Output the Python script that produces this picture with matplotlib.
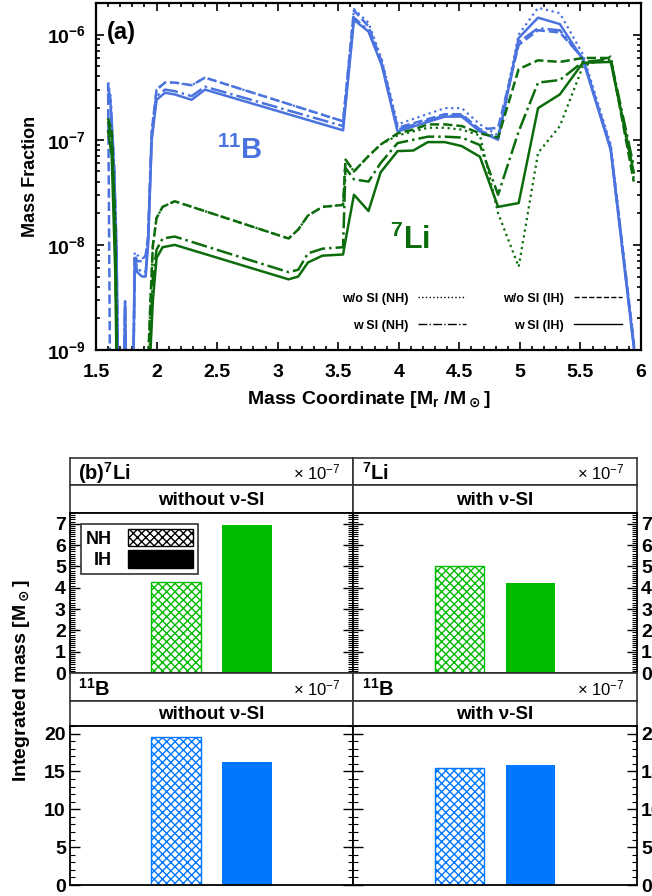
import numpy as np
import matplotlib
matplotlib.use("Agg")
import matplotlib.pyplot as plt
from matplotlib.ticker import MultipleLocator, LogLocator, NullFormatter
from matplotlib.lines import Line2D
from matplotlib.patches import Patch

plt.rcParams['font.family'] = ['Liberation Sans', 'DejaVu Sans']
plt.rcParams['font.weight'] = 'bold'
plt.rcParams['axes.labelweight'] = 'bold'
plt.rcParams['hatch.linewidth'] = 1.0

# ---------------- panel (a) data ----------------
x_b = [1.6, 1.62, 1.65, 1.67, 1.69, 1.72, 1.74, 1.76, 1.8, 1.82, 1.84, 1.88, 1.91, 1.93,
       1.96, 2.0, 2.07, 2.15, 2.29, 2.4, 3.54, 3.63, 3.75, 3.86, 3.99, 4.38, 4.52, 4.67,
       4.82, 4.99, 5.15, 5.33, 5.52, 5.75, 5.94, 6.0]
b_wo_nh = [3.5e-7, 2.6e-7, 6e-8, 9e-9, 1e-10, 1e-10, 2.9e-9, 1e-10, 1e-10, 8.5e-9, 8e-9, 7.5e-9,
           7.5e-9, 1.2e-8, 1.2e-7, 3.0e-7, 3.5e-7, 3.5e-7, 3.3e-7, 3.9e-7, 1.5e-7, 1.75e-6,
           1.3e-6, 5.8e-7, 1.4e-7, 2.0e-7, 2.0e-7, 1.4e-7, 1.1e-7, 1.0e-6, 1.8e-6, 1.6e-6,
           6.5e-7, 9e-8, 1.2e-9, 1e-10]
b_wo_ih = [3.5e-7, 1e-10, 1e-10, 1e-10, 1e-10, 1e-10, 1e-10, 1e-10, 1e-10, 8e-9, 7e-9, 7e-9,
           8e-9, 1.2e-8, 1.2e-7, 3.0e-7, 3.5e-7, 3.5e-7, 3.3e-7, 3.9e-7, 1.5e-7, 1.7e-6,
           1.2e-6, 5.5e-7, 1.3e-7, 1.75e-7, 1.75e-7, 1.25e-7, 1.3e-7, 8e-7, 1.1e-6, 1.05e-6,
           6e-7, 8.5e-8, 1.2e-9, 1e-10]
b_w_nh = [3.2e-7, 2.4e-7, 5.5e-8, 8.5e-9, 1e-10, 1e-10, 2.9e-9, 1e-10, 1e-10, 7.5e-9, 6e-9, 5.5e-9,
          5.5e-9, 1.1e-8, 1.05e-7, 2.6e-7, 3.0e-7, 2.9e-7, 2.6e-7, 3.2e-7, 1.35e-7, 1.45e-6,
          1.1e-6, 5.2e-7, 1.25e-7, 1.7e-7, 1.7e-7, 1.22e-7, 1.05e-7, 8.5e-7, 1.15e-6, 1.1e-6,
          5.9e-7, 8.2e-8, 1.1e-9, 1e-10]
b_w_ih = [2.7e-7, 2.2e-7, 5e-8, 8e-9, 1e-10, 1e-10, 2.9e-9, 1e-10, 1e-10, 7.5e-9, 5.5e-9, 5e-9,
          5e-9, 1e-8, 1e-7, 2.4e-7, 2.8e-7, 2.7e-7, 2.4e-7, 3.0e-7, 1.23e-7, 1.38e-6,
          1.07e-6, 5.1e-7, 1.2e-7, 1.66e-7, 1.66e-7, 1.2e-7, 1.0e-7, 9.3e-7, 1.45e-6, 1.26e-6,
          5.8e-7, 8e-8, 1.07e-9, 1e-10]

x_li = [1.6, 1.63, 1.66, 1.68, 1.9, 1.95, 1.97, 2.0, 2.05, 2.15, 3.09, 3.17, 3.25, 3.37, 3.54,
        3.56, 3.63, 3.75, 3.85, 3.99, 4.12, 4.24, 4.38, 4.52, 4.67, 4.82, 4.99, 5.15, 5.33,
        5.52, 5.75, 5.94]
li_wo_nh = [1.6e-7, 1.2e-7, 1.5e-8, 1e-10, 1e-10, 3e-9, 1e-8, 1.8e-8, 2.3e-8, 2.6e-8, 1.15e-8,
            1.4e-8, 1.9e-8, 2.3e-8, 2.4e-8, 6.5e-8, 5e-8, 7e-8, 9e-8, 1.1e-7, 1.2e-7, 1.3e-7,
            1.3e-7, 1.25e-7, 1.1e-7, 2.0e-8, 6.2e-9, 7.5e-8, 1.35e-7, 5e-7, 6.2e-7, 4.3e-8]
li_wo_ih = [1.6e-7, 1.2e-7, 1.5e-8, 1e-10, 1e-10, 3e-9, 1e-8, 1.8e-8, 2.3e-8, 2.6e-8, 1.15e-8,
            1.4e-8, 1.9e-8, 2.3e-8, 2.4e-8, 6.5e-8, 5e-8, 7e-8, 9e-8, 1.15e-7, 1.25e-7, 1.4e-7,
            1.4e-7, 1.35e-7, 1.15e-7, 1.05e-7, 4.7e-7, 5.7e-7, 5.5e-7, 6.0e-7, 6.0e-7, 4e-8]
li_w_nh = [1.5e-7, 1e-7, 1e-8, 1e-10, 1e-10, 1.5e-9, 5e-9, 9e-9, 1.15e-8, 1.2e-8, 5.5e-9,
           5.8e-9, 8.3e-9, 9.2e-9, 9.5e-9, 5.4e-8, 4.2e-8, 4e-8, 6e-8, 9.3e-8, 1.0e-7, 1.07e-7,
           1.07e-7, 1.05e-7, 8.9e-8, 3.0e-8, 1.2e-7, 3.5e-7, 3.7e-7, 5.5e-7, 5.8e-7, 5.6e-8]
li_w_ih = [1.2e-7, 7e-8, 5e-9, 1e-10, 1e-10, 1e-9, 3e-9, 7.5e-9, 9.5e-9, 1.0e-8, 4.7e-9,
           5.0e-9, 6.8e-9, 7.9e-9, 8.1e-9, 1.1e-8, 3.0e-8, 2.1e-8, 4.9e-8, 7.8e-8, 7.9e-8,
           9.5e-8, 9.5e-8, 8.7e-8, 6.9e-8, 2.3e-8, 2.5e-8, 2.0e-7, 2.7e-7, 5.4e-7, 5.5e-7, 4.9e-8]

# ---------------- panel (b) data ----------------
hierarchy = ['NH', 'IH']
li_without = [4.27, 6.92]
li_with = [5.02, 4.22]
b_without = [19.55, 16.28]
b_with = [15.45, 15.9]

blue = '#4a73df'
green = '#0c6c0c'
bar_green = '#00bb00'
bar_blue = '#0077ff'

W, H = 652, 896
fig = plt.figure(figsize=(W / 100, H / 100), dpi=100)


def rect(x0, x1, ytop, ybot):
    return [x0 / W, 1 - ybot / H, (x1 - x0) / W, (ybot - ytop) / H]


# ================= panel (a) =================
ax = fig.add_axes(rect(96, 641, 3, 350))
styles = [(':', 1.6), ('--', 1.8), ('-.', 1.8), ('-', 1.8)]
for ys, (ls, lw) in zip([b_wo_nh, b_wo_ih, b_w_nh, b_w_ih], styles):
    ax.plot(x_b, ys, color=blue, ls=ls, lw=lw)
for ys, (ls, lw) in zip([li_wo_nh, li_wo_ih, li_w_nh, li_w_ih], styles):
    ax.plot(x_li, ys, color=green, ls=ls, lw=lw)

ax.set_yscale('log')
ax.set_xlim(1.5, 6)
ax.set_ylim(1e-9, 2e-6)
ax.set_xticks([1.5, 2, 2.5, 3, 3.5, 4, 4.5, 5, 5.5, 6])
ax.set_xticklabels(['1.5', '2', '2.5', '3', '3.5', '4', '4.5', '5', '5.5', '6'])
ax.xaxis.set_minor_locator(MultipleLocator(0.1))
ax.set_yticks([1e-9, 1e-8, 1e-7, 1e-6])
ax.set_yticklabels([r'$\mathregular{10^{-9}}$', r'$\mathregular{10^{-8}}$',
                    r'$\mathregular{10^{-7}}$', r'$\mathregular{10^{-6}}$'])
ax.yaxis.set_minor_locator(LogLocator(base=10, subs=np.arange(2, 10)))
ax.yaxis.set_minor_formatter(NullFormatter())
ax.tick_params(which='both', direction='in', top=True, right=True, labelsize=14, width=1.2)
ax.tick_params(which='major', length=6)
ax.tick_params(which='minor', length=3)
ax.tick_params(axis='x', which='major', pad=10)
ax.tick_params(axis='y', which='major', pad=7)
for s in ax.spines.values():
    s.set_linewidth(1.6)
ax.set_xlabel(r'Mass Coordinate [M$\mathregular{_r}$ /M$_\odot$]', fontsize=14, labelpad=6)
ax.set_ylabel('Mass Fraction', fontsize=13, labelpad=6)

ax.text(0.02, 0.914, '(a)', transform=ax.transAxes, fontsize=17, va='center', ha='left')
ax.text(0.264, 0.576, r'$\mathregular{^{11}}$B', transform=ax.transAxes, fontsize=21,
        color=blue, ha='center', va='center')
ax.text(0.576, 0.317, r'$\mathregular{^{7}}$Li', transform=ax.transAxes, fontsize=22,
        color=green, ha='center', va='center')

handles = [Line2D([], [], color='k', ls=':', lw=1.0),
           Line2D([], [], color='k', ls='-.', lw=1.0),
           Line2D([], [], color='k', ls='--', lw=1.0),
           Line2D([], [], color='k', ls='-', lw=1.0)]
labels = ['w/o SI (NH)', 'w SI (NH)', 'w/o SI (IH)', 'w SI (IH)']
ax.legend(handles, labels, ncol=2, markerfirst=False, frameon=False, loc='lower right',
          bbox_to_anchor=(0.985, 0.02), prop={'size': 9, 'weight': 'bold'},
          handlelength=3.8, columnspacing=3.0, labelspacing=1.2, handletextpad=0.8)

# ================= panel (b) =================
cols = [(70, 353), (353, 637)]
rows = [(458, 485, 513, 673), (673, 701, 726, 885)]
panel_data = [[li_without, li_with], [b_without, b_with]]
iso_labels = [[r'(b)$\mathregular{^7}$Li', r'$\mathregular{^7}$Li'],
              [r'$\mathregular{^{11}}$B', r'$\mathregular{^{11}}$B']]
titles = ['without ν-SI', 'with ν-SI']
ylims = [7.5, 21.0]
majors = [1, 5]
minors = [0.1, 1]
colors = [bar_green, bar_blue]
xpos = [1.5, 2.5]

for r, (y0, y1, y2, y3) in enumerate(rows):
    for c, (x0, x1) in enumerate(cols):
        h1 = fig.add_axes(rect(x0, x1, y0, y1))
        h2 = fig.add_axes(rect(x0, x1, y1, y2))
        for h in (h1, h2):
            h.set_xticks([])
            h.set_yticks([])
            for s in h.spines.values():
                s.set_linewidth(1.2)
                s.set_color('#333333')
        h1.text(0.03, 0.45, iso_labels[r][c], transform=h1.transAxes, fontsize=14.5,
                ha='left', va='center')
        h1.text(0.955, 0.45, r'× $\mathregular{10^{-7}}$', transform=h1.transAxes,
                fontsize=12, fontweight='normal', ha='right', va='center')
        h2.text(0.5, 0.45, titles[c], transform=h2.transAxes, fontsize=13.5,
                ha='center', va='center')

        a = fig.add_axes(rect(x0, x1, y2, y3))
        vals = panel_data[r][c]
        a.bar(xpos[0], vals[0], width=0.7, facecolor='white', edgecolor=colors[r],
              hatch='xxxx', linewidth=1.0)
        a.bar(xpos[1], vals[1], width=0.7, color=colors[r])
        a.set_xlim(0, 4)
        a.set_ylim(0, ylims[r])
        a.set_xticks([])
        a.yaxis.set_major_locator(MultipleLocator(majors[r]))
        a.yaxis.set_minor_locator(MultipleLocator(minors[r]))
        a.tick_params(which='both', direction='in', left=True, right=True, labelsize=14,
                      labelleft=(c == 0), labelright=(c == 1), pad=3)
        a.tick_params(which='major', length=7, width=1.0)
        a.tick_params(which='minor', length=3.5, width=0.8)
        for s in a.spines.values():
            s.set_linewidth(1.3)

        if r == 0 and c == 0:
            leg_h = [Patch(facecolor='white', edgecolor='black', hatch='xxxx', lw=1.0),
                     Patch(facecolor='black', edgecolor='black')]
            lg = a.legend(leg_h, hierarchy, loc='upper left', markerfirst=False,
                          bbox_to_anchor=(0.04, 0.93), prop={'size': 13, 'weight': 'bold'},
                          handlelength=3.6, handleheight=1.1, fancybox=False,
                          borderpad=0.25, labelspacing=0.15, handletextpad=0.9,
                          borderaxespad=0.0)
            lg.get_frame().set_edgecolor('black')
            lg.get_frame().set_linewidth(1.2)

fig.text(22 / W, 1 - 681 / H, r'Integrated mass [M$_\odot$]', rotation=90, fontsize=14,
         ha='center', va='center')

fig.savefig('out.png', dpi=100)
